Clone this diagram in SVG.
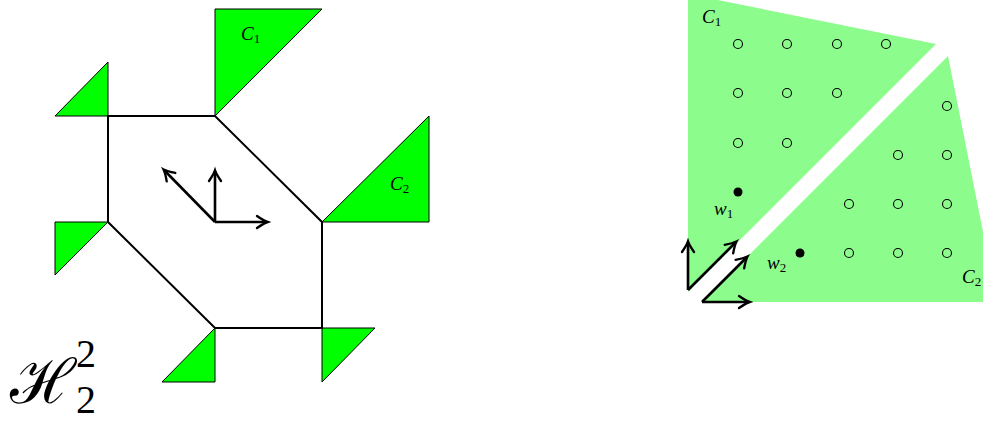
<svg xmlns="http://www.w3.org/2000/svg" width="983" height="422" viewBox="0 0 983 422">
<style>
.tri{fill:#00ff00;stroke:#000;stroke-width:1}
.edge{fill:none;stroke:#000;stroke-width:2;stroke-linejoin:miter}
.arr{fill:none;stroke:#000;stroke-width:2.6;marker-end:url(#ah)}
.cone{fill:#8cfc8c;stroke:none}
.pt{fill:none;stroke:#000;stroke-width:1.1}
.dot{fill:#000}
.lbl{font-family:"Liberation Serif","DejaVu Serif",serif;font-style:italic;font-size:19px;fill:#000}
.sub{font-style:normal;font-size:13px}
.big{font-family:"DejaVu Serif","Liberation Serif",serif;font-size:62px;fill:#000}
.bigs{font-family:"Liberation Serif","DejaVu Serif",serif;font-size:40px;fill:#000}
</style>
<defs>
<marker id="ah" markerUnits="userSpaceOnUse" markerWidth="20" markerHeight="20" viewBox="-10 -8 12 16" refX="0" refY="0" orient="auto" overflow="visible">
<path d="M-8,-4.8 Q-2.5,-1 0.5,0 Q-2.5,1 -8,4.8" fill="none" stroke="#000" stroke-width="1.9" stroke-linecap="round"/>
</marker>
</defs>

<!-- Left figure -->
<g id="left-figure">
<g id="triangle-C1"><polygon class="tri" points="215,9 322,9 215,116"/></g>
<g id="triangle-topleft"><polygon class="tri" points="108,62 108,116 55,116"/></g>
<g id="triangle-C2"><polygon class="tri" points="429,116 429,222 322,222"/></g>
<g id="triangle-left"><polygon class="tri" points="55,222 108,222 55,275"/></g>
<g id="triangle-bottomleft"><polygon class="tri" points="215,328 215,382 162,382"/></g>
<g id="triangle-bottomright"><polygon class="tri" points="322,328 375,328 322,382"/></g>
<g id="hexagon"><polygon class="edge" points="108,116 215,116 322,222 322,328 215,328 108,222"/></g>
<g id="label-C1-left"><text class="lbl" x="241" y="40">C<tspan class="sub" dy="3">1</tspan></text></g>
<g id="label-C2-left"><text class="lbl" x="390" y="190">C<tspan class="sub" dy="3">2</tspan></text></g>
<g id="label-H"><text class="big" x="10" y="403">ℋ</text><text class="bigs" x="76" y="367">2</text><text class="bigs" x="76" y="413">2</text></g>
</g>

<!-- Right figure -->
<g id="right-figure">
<g id="cone-C1"><polygon class="cone" points="688,-6 936,44 688,292"/></g>
<g id="cone-C2"><polygon class="cone" points="948,56 997,302 702,302"/></g>
<g id="points-C1">
<circle class="pt" cx="738" cy="44" r="4.5"/><circle class="pt" cx="787" cy="44" r="4.5"/><circle class="pt" cx="837" cy="44" r="4.5"/><circle class="pt" cx="886" cy="44" r="4.5"/>
<circle class="pt" cx="738" cy="93" r="4.5"/><circle class="pt" cx="787" cy="93" r="4.5"/><circle class="pt" cx="837" cy="93" r="4.5"/>
<circle class="pt" cx="738" cy="143" r="4.5"/><circle class="pt" cx="787" cy="143" r="4.5"/>
</g>
<g id="points-C2">
<circle class="pt" cx="947" cy="106" r="4.5"/>
<circle class="pt" cx="898" cy="155" r="4.5"/><circle class="pt" cx="947" cy="155" r="4.5"/>
<circle class="pt" cx="849" cy="204" r="4.5"/><circle class="pt" cx="898" cy="204" r="4.5"/><circle class="pt" cx="947" cy="204" r="4.5"/>
<circle class="pt" cx="849" cy="253" r="4.5"/><circle class="pt" cx="898" cy="253" r="4.5"/><circle class="pt" cx="947" cy="253" r="4.5"/>
</g>
<g id="w1"><circle class="dot" cx="738" cy="192" r="4.5"/><text class="lbl" x="714" y="215">w<tspan class="sub" dy="3">1</tspan></text></g>
<g id="w2"><circle class="dot" cx="800" cy="253" r="4.5"/><text class="lbl" x="767" y="269">w<tspan class="sub" dy="3">2</tspan></text></g>
<g id="label-C1-right"><text class="lbl" x="702" y="23">C<tspan class="sub" dy="3">1</tspan></text></g>
<g id="label-C2-right"><text class="lbl" x="962" y="283">C<tspan class="sub" dy="3">2</tspan></text></g>
</g>

<!-- Connectors (arrows) -->
<g id="connectors">
<line class="arr" x1="215" y1="222" x2="215" y2="171"/>
<line class="arr" x1="215" y1="222" x2="267" y2="222"/>
<line class="arr" x1="215" y1="222" x2="164" y2="170"/>
<line class="arr" x1="688" y1="290" x2="688" y2="242"/>
<line class="arr" x1="688" y1="290" x2="736" y2="242"/>
<line class="arr" x1="702" y1="302" x2="749" y2="302"/>
<line class="arr" x1="702" y1="302" x2="747" y2="257"/>
</g>
</svg>
